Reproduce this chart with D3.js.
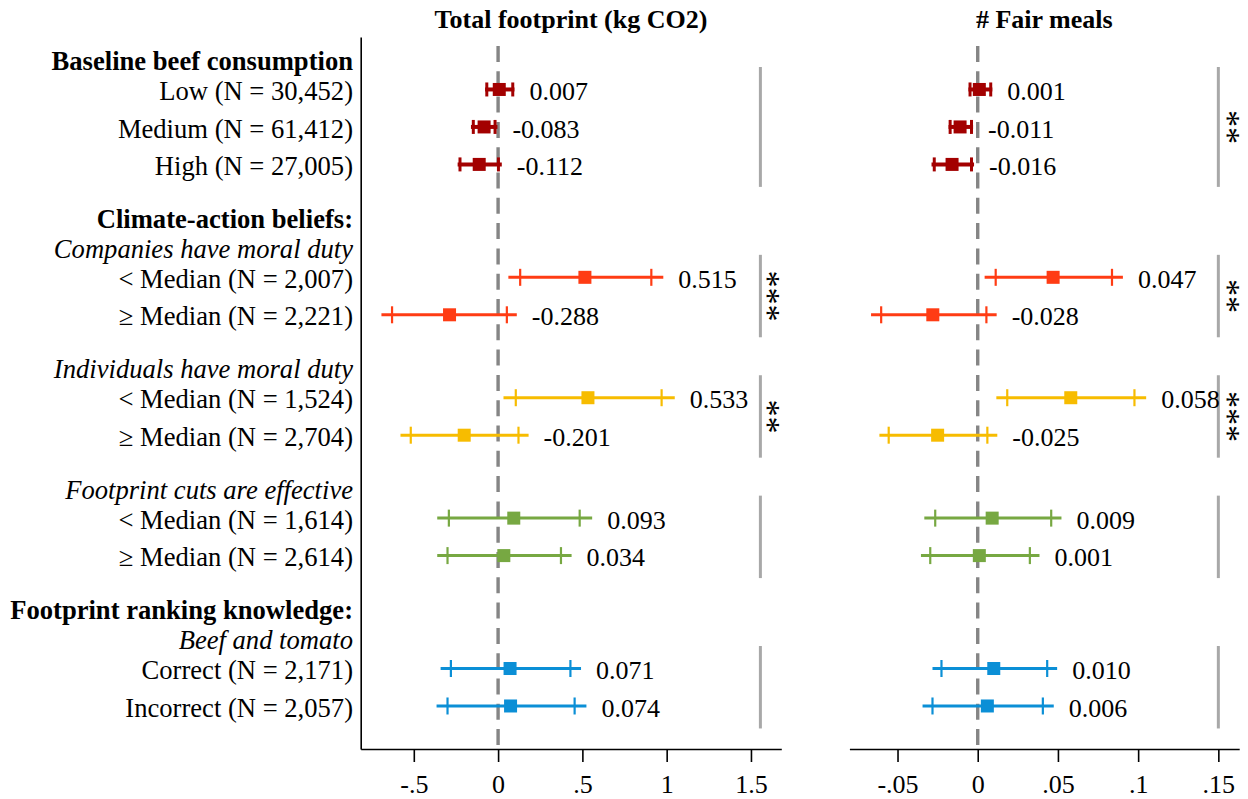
<!DOCTYPE html>
<html>
<head>
<meta charset="utf-8">
<script src="https://cdn.jsdelivr.net/npm/d3@7"></script>
<style>
  html, body { margin: 0; padding: 0; background: #fff; }
  svg { display: block; }
  text { font-family: "Liberation Serif", "Times New Roman", Times, serif; }
</style>
</head>
<body>
<svg id="chart" width="1248" height="799"></svg>
<script>
// ---------------- DATA ----------------
const groupHeaders = [
  [{ text: "Baseline beef consumption", style: "bold" }],
  [{ text: "Climate-action beliefs:", style: "bold" }, { text: "Companies have moral duty", style: "italic" }],
  [{ text: "Individuals have moral duty", style: "italic" }],
  [{ text: "Footprint cuts are effective", style: "italic" }],
  [{ text: "Footprint ranking knowledge:", style: "bold" }, { text: "Beef and tomato", style: "italic" }]
];
const rowLabels = [
  "Low (N = 30,452)", "Medium (N = 61,412)", "High (N = 27,005)",
  "< Median (N = 2,007)", "≥ Median (N = 2,221)",
  "< Median (N = 1,524)", "≥ Median (N = 2,704)",
  "< Median (N = 1,614)", "≥ Median (N = 2,614)",
  "Correct (N = 2,171)", "Incorrect (N = 2,057)"
];
const rowGroup = [0, 0, 0, 1, 1, 2, 2, 3, 3, 4, 4];
const groupColors = ["#A30000", "#FF3C14", "#F7BC00", "#77A842", "#0B8FD6"];

// Panel 1: Total footprint (kg CO2)
const footEst  = [0.007, -0.083, -0.112, 0.515, -0.288, 0.533, -0.201, 0.093, 0.034, 0.071, 0.074];
const footLo95 = [-0.077, -0.161, -0.240, 0.061, -0.692, 0.032, -0.579, -0.361, -0.361, -0.341, -0.365];
const footHi95 = [0.097, -0.004, 0.022, 0.980, 0.111, 1.048, 0.181, 0.558, 0.436, 0.492, 0.524];
const footLo90 = [-0.067, -0.147, -0.226, 0.131, -0.629, 0.105, -0.518, -0.292, -0.300, -0.280, -0.300];
const footHi90 = [0.087, -0.018, 0.002, 0.909, 0.052, 0.970, 0.121, 0.484, 0.373, 0.429, 0.454];
const footStars = ["", "***", "**", "", ""];
const footTicks = [-0.5, 0, 0.5, 1, 1.5];
const footTickLabels = ["-.5", "0", ".5", "1", "1.5"];

// Panel 2: # Fair meals
const fairEst  = [0.001, -0.011, -0.016, 0.047, -0.028, 0.058, -0.025, 0.009, 0.001, 0.010, 0.006];
const fairLo95 = [-0.0058, -0.0182, -0.0288, 0.0043, -0.0665, 0.0116, -0.0613, -0.0333, -0.0354, -0.0282, -0.0344];
const fairHi95 = [0.0091, -0.0029, -0.0023, 0.0905, 0.0118, 0.1050, 0.0122, 0.0522, 0.0385, 0.0495, 0.0474];
const fairLo90 = [-0.0048, -0.0172, -0.0271, 0.0112, -0.0602, 0.0184, -0.0555, -0.0265, -0.0296, -0.0226, -0.0282];
const fairHi90 = [0.0081, -0.0039, -0.0039, 0.0837, 0.0054, 0.0977, 0.0060, 0.0458, 0.0325, 0.0433, 0.0406];
const fairStars = ["**", "**", "***", "", ""];
const fairTicks = [-0.05, 0, 0.05, 0.1, 0.15];
const fairTickLabels = ["-.05", "0", ".05", ".1", ".15"];

// ---------------- LAYOUT ----------------
const FONT = 26;
const LABEL_FONT = 26.6;
const svg = d3.select("#chart");
svg.append("rect").attr("width", 1248).attr("height", 799).attr("fill", "#fff");

const plotTop = 37, plotBottom = 749;
const y = d3.scaleLinear().domain([0, 19]).range([plotTop, plotBottom]);

// compute row positions (in row units)
const HEADER_STEP = 0.8, ITEM_STEP = 1, GROUP_GAP = 1.413;
const headerPos = [];
const rowPos = [];
let last = null;
groupHeaders.forEach((hs, g) => {
  let p = (last === null) ? 0.6 : last + GROUP_GAP;
  hs.forEach((h, i) => { headerPos.push({ g, i, pos: p, ...h }); p += HEADER_STEP; });
  rowGroup.forEach((rg, r) => {
    if (rg === g) { rowPos[r] = p; last = p; p += ITEM_STEP; }
  });
});

const panels = [
  { title: "Total footprint (kg CO2)", domain: [-0.815, 1.68], range: [360.7, 781.3],
    est: footEst, lo95: footLo95, hi95: footHi95, lo90: footLo90, hi90: footHi90,
    stars: footStars, ticks: footTicks, tickLabels: footTickLabels,
    bracket: 1.556, starOff: 13, yAxis: true },
  { title: "# Fair meals", domain: [-0.08, 0.163], range: [849.4, 1239.2],
    est: fairEst, lo95: fairLo95, hi95: fairHi95, lo90: fairLo90, hi90: fairHi90,
    stars: fairStars, ticks: fairTicks, tickLabels: fairTickLabels,
    bracket: 0.15, starOff: 15, yAxis: false }
];

const TXT_DY = 10.6;

// row labels
const labelX = 353;
svg.append("g").selectAll("text.hdr").data(headerPos).join("text")
  .attr("x", labelX).attr("y", d => y(d.pos) + TXT_DY)
  .attr("text-anchor", "end").attr("font-size", LABEL_FONT)
  .attr("font-weight", d => d.style === "bold" ? "bold" : "normal")
  .attr("font-style", d => d.style === "italic" ? "italic" : "normal")
  .attr("fill", "#000").text(d => d.text);
svg.append("g").selectAll("text.row").data(rowLabels).join("text")
  .attr("x", labelX).attr("y", (d, i) => y(rowPos[i]) + TXT_DY)
  .attr("text-anchor", "end").attr("font-size", LABEL_FONT)
  .attr("fill", "#000").text(d => d);

panels.forEach(P => {
  const x = d3.scaleLinear().domain(P.domain).range(P.range);
  const g = svg.append("g");

  // title
  g.append("text").attr("x", (P.range[0] + P.range[1]) / 2).attr("y", 28)
    .attr("text-anchor", "middle").attr("font-size", FONT).attr("font-weight", "bold")
    .text(P.title);

  // zero dashed line
  g.append("line").attr("x1", x(0)).attr("x2", x(0))
    .attr("y1", 46).attr("y2", plotBottom)
    .attr("stroke", "#858585").attr("stroke-width", 3.4)
    .attr("stroke-dasharray", "16,9.3");

  // x axis
  const ax = d3.axisBottom(x).tickValues(P.ticks)
    .tickFormat((d, i) => P.tickLabels[i]).tickSize(13).tickSizeOuter(0).tickPadding(12.5);
  const axg = g.append("g").attr("transform", `translate(0,${plotBottom})`).call(ax);
  axg.select(".domain").attr("stroke", "#000").attr("stroke-width", 1.6);
  axg.selectAll(".tick line").attr("stroke", "#000").attr("stroke-width", 1.6);
  axg.selectAll(".tick text").attr("font-size", FONT).attr("fill", "#000")
    .attr("font-family", "'Liberation Serif', 'Times New Roman', serif");

  if (P.yAxis) {
    const ayg = g.append("g").attr("transform", `translate(${P.range[0]},0)`)
      .call(d3.axisLeft(y).tickValues([]).tickSizeOuter(0));
    ayg.select(".domain").attr("stroke", "#000").attr("stroke-width", 1.6);
  }

  // brackets and stars
  groupHeaders.forEach((hs, gi) => {
    const rows = rowGroup.map((rg, r) => rg === gi ? r : -1).filter(r => r >= 0);
    const y0 = y(rowPos[rows[0]] - 0.6), y1 = y(rowPos[rows[rows.length - 1]] + 0.6);
    g.append("line").attr("x1", x(P.bracket)).attr("x2", x(P.bracket))
      .attr("y1", y0).attr("y2", y1).attr("stroke", "#A8A8A8").attr("stroke-width", 3);
    const s = P.stars[gi];
    if (s) {
      const mid = (y(rowPos[rows[0]]) + y(rowPos[rows[rows.length - 1]])) / 2;
      const sx = x(P.bracket) + P.starOff;
      // vertical (rotated) star string, like Stata's rotated text
      g.append("text")
        .attr("transform", `translate(${sx - 16},${mid}) rotate(90)`)
        .attr("text-anchor", "middle").attr("font-size", 34).attr("fill", "#000")
        .text(s);
    }
  });

  // CI lines
  const rowsIdx = d3.range(rowLabels.length);
  const lw = i => rowGroup[i] === 0 ? 4 : 3;
  g.append("g").selectAll("line.ci").data(rowsIdx).join("line")
    .attr("x1", i => x(P.lo95[i])).attr("x2", i => x(P.hi95[i]))
    .attr("y1", i => y(rowPos[i])).attr("y2", i => y(rowPos[i]))
    .attr("stroke", i => groupColors[rowGroup[i]]).attr("stroke-width", lw);
  // caps (90% ticks)
  const caps = [];
  rowsIdx.forEach(i => { caps.push({ i, v: P.lo90[i] }); caps.push({ i, v: P.hi90[i] }); });
  g.append("g").selectAll("line.cap").data(caps).join("line")
    .attr("x1", d => x(d.v)).attr("x2", d => x(d.v))
    .attr("y1", d => y(rowPos[d.i]) - (rowGroup[d.i] === 0 ? 7 : 8.5))
    .attr("y2", d => y(rowPos[d.i]) + (rowGroup[d.i] === 0 ? 7 : 8.5))
    .attr("stroke", d => groupColors[rowGroup[d.i]])
    .attr("stroke-width", d => rowGroup[d.i] === 0 ? 3 : 2.2);
  // markers
  const MS = 13;
  g.append("g").selectAll("rect.pt").data(rowsIdx).join("rect")
    .attr("x", i => x(P.est[i]) - MS / 2).attr("y", i => y(rowPos[i]) - MS / 2)
    .attr("width", MS).attr("height", MS)
    .attr("fill", i => groupColors[rowGroup[i]]);
  // value labels
  g.append("g").selectAll("text.val").data(rowsIdx).join("text")
    .attr("x", i => x(P.hi95[i]) + 15).attr("y", i => y(rowPos[i]) + TXT_DY)
    .attr("font-size", FONT).attr("fill", "#000")
    .text(i => P.est[i].toFixed(3));
});
</script>
</body>
</html>
